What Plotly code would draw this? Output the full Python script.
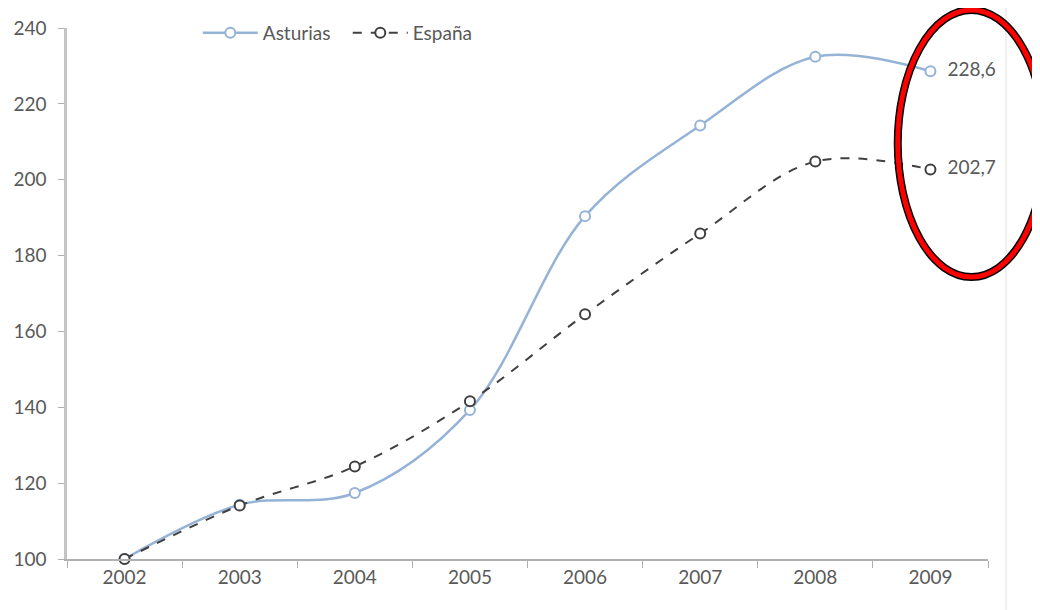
import plotly.graph_objects as go

years = ["2002", "2003", "2004", "2005", "2006", "2007", "2008", "2009"]
asturias = [100, 114.3, 117.4, 139.3, 190.4, 214.3, 232.4, 228.6]
espana = [100, 114.1, 124.4, 141.6, 164.5, 185.8, 204.8, 202.7]
asturias_labels = ["", "", "", "", "", "", "", "  228,6"]
espana_labels = ["", "", "", "", "", "", "", "  202,7"]
y_ticks = [100, 120, 140, 160, 180, 200, 220, 240]

FONT = "Lato, 'Open Sans', sans-serif"
GRAY = "#595959"
FS = 19

fig = go.Figure()
fig.add_trace(go.Scatter(
    x=years, y=asturias, name="Asturias", mode="lines+markers+text",
    text=asturias_labels, textposition="middle right", cliponaxis=False,
    textfont=dict(size=FS, color=GRAY, family=FONT),
    line=dict(color="#95B3D7", width=2.5, shape="spline", smoothing=1),
    marker=dict(symbol="circle", size=10, color="white",
                line=dict(color="#95B3D7", width=2)),
))
fig.add_trace(go.Scatter(
    x=years, y=espana, name="España", mode="lines+markers+text",
    text=espana_labels, textposition="middle right", cliponaxis=False,
    textfont=dict(size=FS, color=GRAY, family=FONT),
    line=dict(color="#404040", width=2, dash="dash", shape="spline", smoothing=1),
    marker=dict(symbol="circle", size=10, color="white",
                line=dict(color="#404040", width=2)),
))

# faint chart border on the right
fig.add_shape(type="line", xref="paper", yref="paper",
              x0=1.0195, x1=1.0195, y0=-0.1, y1=1.06,
              line=dict(color="#EBEBEB", width=1.5), layer="below")

# highlight ellipse around final values (black outline + red ring)
fig.add_shape(type="circle", xref="paper", yref="paper",
              x0=0.902, x1=1.062, y0=0.531, y1=1.034,
              line=dict(color="black", width=8), layer="above")
fig.add_shape(type="circle", xref="paper", yref="paper",
              x0=0.902, x1=1.062, y0=0.531, y1=1.034,
              line=dict(color="#FF0000", width=5), layer="above")

fig.update_layout(
    width=1040, height=610,
    margin=dict(l=59, r=60, t=20, b=59, autoexpand=False),
    paper_bgcolor="white", plot_bgcolor="white",
    font=dict(family=FONT, size=FS, color=GRAY),
    showlegend=True,
    legend=dict(orientation="h", x=0.142, y=0.959, yref="container",
                xanchor="left", yanchor="middle",
                font=dict(size=FS, color=GRAY, family=FONT),
                entrywidth=80, itemwidth=55,
                bgcolor="rgba(0,0,0,0)"),
    xaxis=dict(type="category", range=[-0.5, 7.5], tickson="boundaries",
               automargin=False,
               ticks="outside", ticklen=7, tickcolor="#B0B0B0",
               showline=True, linecolor="#B0B0B0", linewidth=1.5,
               showgrid=False, zeroline=False,
               tickfont=dict(size=FS, color=GRAY)),
    yaxis=dict(range=[100, 240], tickvals=y_ticks, automargin=False,
               ticks="outside", ticklen=6, tickcolor="#B0B0B0",
               ticklabelstandoff=8,
               showline=True, linecolor="#C4C4C4", linewidth=2.5,
               showgrid=False, zeroline=False,
               tickfont=dict(size=FS, color=GRAY)),
)

fig.write_html("out.html")
